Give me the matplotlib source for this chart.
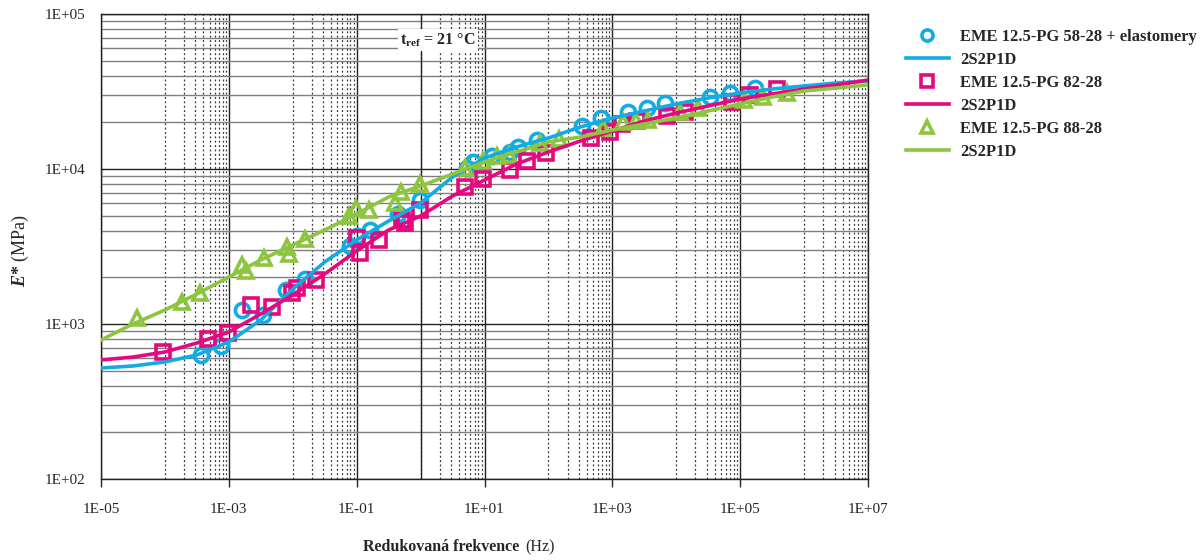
import matplotlib
matplotlib.use("Agg")
import matplotlib.pyplot as plt
from matplotlib.lines import Line2D
from matplotlib.ticker import FixedLocator, FixedFormatter, NullFormatter
from matplotlib.offsetbox import TextArea, HPacker, AnchoredOffsetbox

plt.rcParams['font.family'] = ['Liberation Serif', 'DejaVu Serif']
plt.rcParams['mathtext.fontset'] = 'custom'
plt.rcParams['mathtext.rm'] = 'Liberation Serif'
plt.rcParams['mathtext.bf'] = 'Liberation Serif:bold'
plt.rcParams['mathtext.it'] = 'Liberation Serif:italic'
plt.rcParams['mathtext.bfit'] = 'Liberation Serif:bold:italic'

# ---------------- data ----------------
# EME 12.5-PG 58-28 + elastomery (measured)
f_58 = [3.67e-4, 7.55e-4, 1.61e-3, 3.43e-3, 7.85e-3, 1.56e-2, 7.89e-2, 0.101, 0.162,
        0.445, 0.98, 5.35, 6.63, 13.2, 25.2, 33.6, 66.5, 337, 668, 1766, 3506,
        6700, 33960, 69800, 171800]
E_58 = [631, 721, 1231, 1143, 1657, 1950, 3186, 3697, 4040, 5125, 6310, 10150,
        11090, 12130, 12880, 13870, 15380, 18930, 21330, 23330, 24770, 26660,
        29150, 30930, 33330]

# EME 12.5-PG 82-28 (measured)
f_82 = [9.33e-5, 4.72e-4, 9.70e-4, 2.22e-3, 4.74e-3, 9.75e-3, 1.17e-2, 2.32e-2,
        0.101, 0.113, 0.224, 0.513, 0.571, 0.98, 4.97, 9.51, 25.2, 46.4, 92.0,
        466, 925, 1422, 2443, 7210, 13770, 75000, 143300, 379700]
E_82 = [659, 800, 875, 1327, 1288, 1585, 1707, 1922, 3589, 2872, 3483, 4688, 4484,
        5437, 7650, 8617, 9860, 11270, 12680, 15850, 17330, 19500, 20400, 21970,
        23330, 27050, 30000, 32820]

# EME 12.5-PG 88-28 (measured)
f_88 = [3.66e-5, 1.85e-4, 3.54e-4, 1.61e-3, 1.86e-3, 3.56e-3, 8.15e-3, 8.75e-3,
        1.56e-2, 7.60e-2, 9.80e-2, 0.156, 0.399, 0.495, 0.98, 4.97, 9.51, 15.7,
        24.3, 74.1, 147, 718, 1476, 2355, 3631, 11510, 22030, 115600, 229000, 544000]
E_88 = [1094, 1387, 1585, 2403, 2198, 2667, 3140, 2829, 3532, 4977, 5600, 5437,
        6035, 7110, 8000, 10150, 11270, 12130, 12310, 14710, 15630, 18390, 20110,
        20400, 20700, 23330, 24770, 27870, 29150, 30930]

# 2S2P1D model curves (values every half decade)
f_fit = [1e-5, 3.162e-5, 1e-4, 3.162e-4, 1e-3, 3.162e-3, 1e-2, 3.162e-2, 1e-1, 3.162e-1,
         1e0, 3.162e0, 1e1, 3.162e1, 1e2, 3.162e2, 1e3, 3.162e3, 1e4, 3.162e4,
         1e5, 3.162e5, 1e6, 3.162e6, 1e7]
E_fit_58 = [520, 536, 569, 631, 766, 1061, 1682, 2512, 3484, 4618, 6034, 8880, 11776,
            13868, 15849, 18664, 21330, 23670, 26270, 28720, 30930, 32820, 34320,
            35870, 36960]
E_fit_82 = [586, 612, 660, 754, 888, 1160, 1539, 2102, 2958, 4042, 4976, 6696, 8492,
            10772, 12875, 15154, 17590, 20400, 22980, 25500, 28290, 30470, 32820,
            34840, 37520]
E_fit_88 = [788, 1000, 1231, 1562, 2010, 2588, 3234, 4042, 5125, 6598, 7768, 9284,
            11097, 12875, 14940, 16090, 17850, 19510, 21330, 23670, 26270, 29140,
            31860, 33310, 34840]

x_ticks = [1e-5, 1e-3, 1e-1, 1e1, 1e3, 1e5, 1e7]
x_tick_labels = ["1E-05", "1E-03", "1E-01", "1E+01", "1E+03", "1E+05", "1E+07"]
y_ticks = [1e2, 1e3, 1e4, 1e5]
y_tick_labels = ["1E+02", "1E+03", "1E+04", "1E+05"]

labels = ["EME 12.5-PG 58-28 + elastomery", "2S2P1D", "EME 12.5-PG 82-28", "2S2P1D",
          "EME 12.5-PG 88-28", "2S2P1D"]

c_blue = "#12ABE3"
c_pink = "#E4097F"
c_green = "#8DC53F"
c_text = "#262626"

# ---------------- figure ----------------
W, H = 1203, 560
fig = plt.figure(figsize=(W / 100, H / 100), dpi=100)
ax = fig.add_axes([101 / W, 1 - 479 / H, 767 / W, 465 / H])
ax.set_xscale('log')
ax.set_yscale('log')
ax.set_xlim(1e-5, 1e7)
ax.set_ylim(1e2, 1e5)

# grid structure (Excel-like, log base 100 on x)
x_minor = [k * 10.0 ** d for d in (-4, -2, 0, 2, 4, 6) for k in range(1, 10)]
y_minor = [k * 10.0 ** d for d in (2, 3, 4) for k in range(2, 10)]
ax.xaxis.set_major_locator(FixedLocator(x_ticks))
ax.xaxis.set_major_formatter(FixedFormatter(x_tick_labels))
ax.xaxis.set_minor_locator(FixedLocator(x_minor))
ax.xaxis.set_minor_formatter(NullFormatter())
ax.yaxis.set_major_locator(FixedLocator(y_ticks))
ax.yaxis.set_major_formatter(FixedFormatter(y_tick_labels))
ax.yaxis.set_minor_locator(FixedLocator(y_minor))
ax.yaxis.set_minor_formatter(NullFormatter())

ax.grid(True, which='major', axis='x', color='#222222', lw=1.0, ls='-')
ax.grid(True, which='minor', axis='x', color='#333333', lw=0.9, ls=(0, (1.5, 2.0)))
ax.grid(True, which='major', axis='y', color='#222222', lw=1.0, ls='-')
ax.grid(True, which='minor', axis='y', color='#7f7f7f', lw=1.0, ls='-')
ax.axvline(1.0, color='#222222', lw=1.0, zorder=0.6)
ax.set_axisbelow(True)

ax.tick_params(axis='x', which='major', length=6, width=1, direction='out',
               pad=11, labelsize=11, colors=c_text)
ax.tick_params(axis='x', which='minor', length=0)
ax.tick_params(axis='y', which='both', length=0, pad=11, labelsize=11, colors=c_text)
for s in ax.spines.values():
    s.set_color('#222222')
    s.set_linewidth(1.0)

lw = 2.6
mk = dict(ls='none', mfc='none', mew=2.6, ms=10.2)
ax.plot(f_58, E_58, marker='o', mec=c_blue, zorder=3, **mk)
ax.plot(f_fit, E_fit_58, color=c_blue, lw=lw, zorder=4)
ax.plot(f_82, E_82, marker='s', mec=c_pink, zorder=3, **mk)
ax.plot(f_fit, E_fit_82, color=c_pink, lw=lw, zorder=4)
ax.plot(f_88, E_88, marker='^', mec=c_green, zorder=3, **mk)
ax.plot(f_fit, E_fit_88, color=c_green, lw=lw, zorder=4)

# annotation
ax.text((438 - 101) / 767, (479 - 40) / 465, r"$\mathbf{t_{ref}}$" + " = 21 °C",
        transform=ax.transAxes, ha='center', va='center', fontsize=11.5,
        fontweight='bold', color=c_text,
        bbox=dict(facecolor='white', edgecolor='none', pad=1.5), zorder=5)

# legend
handles = [
    Line2D([], [], ls='none', marker='o', mfc='none', mec=c_blue, mew=2.6, ms=8),
    Line2D([], [], color=c_blue, lw=lw),
    Line2D([], [], ls='none', marker='s', mfc='none', mec=c_pink, mew=2.6, ms=8),
    Line2D([], [], color=c_pink, lw=lw),
    Line2D([], [], ls='none', marker='^', mfc='none', mec=c_green, mew=2.6, ms=8),
    Line2D([], [], color=c_green, lw=lw),
]
leg = fig.legend(handles, labels, loc='upper left', bbox_to_anchor=(906 / W, 1 - 29 / H),
                 frameon=False, borderpad=0, borderaxespad=0, handlelength=2.6,
                 handletextpad=0.66, labelspacing=0.42,
                 prop=dict(family='Liberation Serif', weight='bold', size=11.9))
for t in leg.get_texts():
    t.set_color(c_text)

# axis labels
fig.text(20 / W, 1 - 251 / H, r"$\mathbfit{E}$$\mathbf{{*}}$ (MPa)", rotation=90,
         ha='center', va='center', fontsize=13, color=c_text)
ta1 = TextArea("Redukovaná frekvence", textprops=dict(fontweight='bold', fontsize=11.5, color=c_text))
ta2 = TextArea("(Hz)", textprops=dict(fontsize=11.5, color=c_text))
pack = HPacker(children=[ta1, ta2], align='baseline', pad=0, sep=4)
ab = AnchoredOffsetbox(loc='center', child=pack, frameon=False, pad=0, borderpad=0,
                       bbox_to_anchor=(459 / W, 1 - 547 / H), bbox_transform=fig.transFigure)
fig.add_artist(ab)

fig.savefig("out.png", dpi=100)
